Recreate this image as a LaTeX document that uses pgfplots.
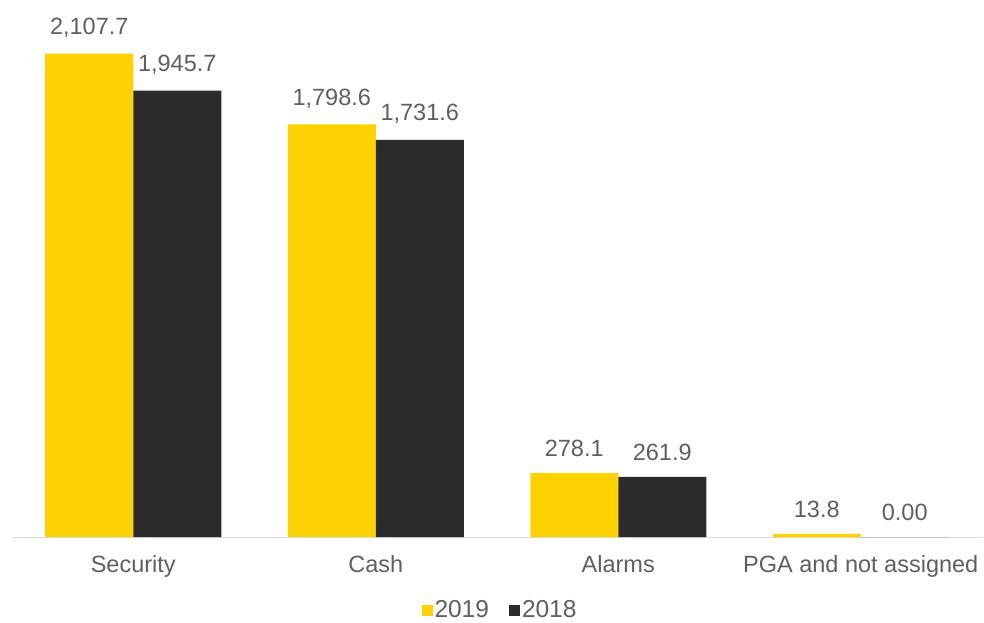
\documentclass[border=0pt]{standalone}
\usepackage{pgfplots}
\usepackage{pgfplotstable}
\pgfplotsset{compat=1.18}
\usepackage{fontspec}
\setmainfont{Liberation Sans}
\definecolor{cy}{HTML}{FFD200}
\definecolor{cb}{HTML}{2B2B2B}
\definecolor{tg}{HTML}{5F5F5F}
\definecolor{lg}{HTML}{D9D9D9}
\pgfplotstableread{
x y label
0 2107.7 2,107.7
1 1798.6 1,798.6
2 278.1 278.1
3 13.8 13.8
}\dA
\pgfplotstableread{
x y label
0 1945.7 1,945.7
1 1731.6 1,731.6
2 261.9 261.9
3 0 0.00
}\dB
\begin{document}
\fontsize{23.5pt}{27pt}\selectfont
\begin{tikzpicture}
\begin{axis}[
  scale only axis,
  width=970pt, height=527.6pt,
  xmin=-0.5, xmax=3.5, ymin=0, ymax=2300,
  ybar=0pt, bar width=88pt,
  axis x line*=bottom,
  axis y line=none,
  x axis line style={draw=lg, line width=1pt, -},
  xtick={0,1,2,3},
  xticklabels={Security,Cash,Alarms,PGA and not assigned},
  major tick length=0pt,
  xticklabel style={text=tg, font=\fontsize{23.5pt}{27pt}\selectfont, yshift=-10pt},
  clip=false,
  point meta=explicit symbolic,
  nodes near coords,
  nodes near coords style={anchor=south, inner sep=0pt, yshift=16pt, text=tg, font=\fontsize{23.5pt}{27pt}\selectfont},
  legend style={at={(0.5,0)}, yshift=-61pt, xshift=3pt, anchor=north, draw=none, fill=none, legend columns=2,
    font=\fontsize{24.5pt}{27pt}\selectfont, text=tg, inner sep=0pt,
    /tikz/every even column/.append style={column sep=18pt}},
  legend image code/.code={\fill[#1] (0pt,-5.5pt) rectangle (11pt,5.5pt);},
]
\addplot[fill=cy, draw=none] table[x=x,y=y,meta=label]{\dA};
\addplot[fill=cb, draw=none] table[x=x,y=y,meta=label]{\dB};
\legend{2019,2018}
\end{axis}
\pgfresetboundingbox
\path (current axis.south west) ++(-12pt,-86pt) rectangle ++(984pt,623pt);
\end{tikzpicture}
\end{document}
